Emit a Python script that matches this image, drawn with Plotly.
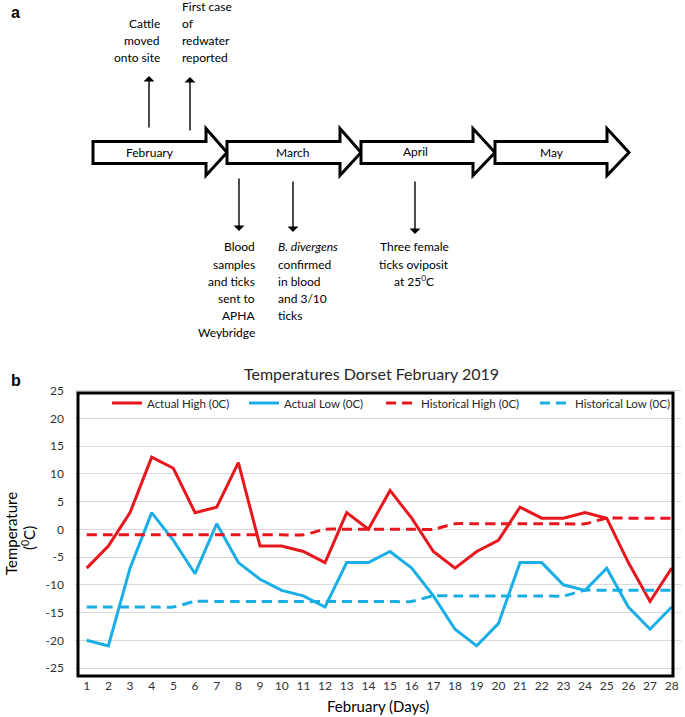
import plotly.graph_objects as go

OFF = 0  # body margin removed by post_script below
W, H = 685, 717

days = list(range(1, 29))
actual_high = [-7, -3, 3, 13, 11, 3, 4, 12, -3, -3, -4, -6, 3, 0, 7, 2, -4, -7, -4, -2, 4, 2, 2, 3, 2, -6, -13, -7]
actual_low = [-20, -21, -7, 3, -2, -8, 1, -6, -9, -11, -12, -14, -6, -6, -4, -7, -12, -18, -21, -17, -6, -6, -10, -11, -7, -14, -18, -14]
hist_high = [-1]*11 + [0]*6 + [1]*7 + [2]*4
hist_low = [-14]*5 + [-13]*11 + [-12]*7 + [-11]*5
y_ticks = [25, 20, 15, 10, 5, 0, -5, -10, -15, -20, -25]
series_names = ["Actual High (0C)", "Actual Low (0C)", "Historical High (0C)", "Historical Low (0C)"]

RED = "#e8161d"
BLUE = "#1aaee6"
FONT = "Lato"


def X(px):
    return (px - OFF) / W


def Y(py):
    return 1 - (py - OFF) / H


fig = go.Figure()
fig.add_trace(go.Scatter(x=days, y=actual_high, mode="lines", name=series_names[0], legend="legend",
                         line=dict(color=RED, width=3)))
fig.add_trace(go.Scatter(x=days, y=actual_low, mode="lines", name=series_names[1], legend="legend2",
                         line=dict(color=BLUE, width=3)))
fig.add_trace(go.Scatter(x=days, y=hist_high, mode="lines", name=series_names[2], legend="legend3",
                         line=dict(color=RED, width=3, dash="10px,6px", shape="spline", smoothing=0.6)))
fig.add_trace(go.Scatter(x=days, y=hist_low, mode="lines", name=series_names[3], legend="legend4",
                         line=dict(color=BLUE, width=3, dash="10px,6px", shape="spline", smoothing=0.6)))

shapes = []
annotations = []


def text(t, px, py, size=12, anchor="center", color="black", family=FONT, angle=0):
    annotations.append(dict(text=t, x=X(px), y=Y(py), xref="paper", yref="paper",
                            showarrow=False, xanchor=anchor, yanchor="middle", textangle=angle,
                            font=dict(family=family, size=size, color=color)))


# ---------- panel a: timeline ----------
def block_arrow(x0, xb, xt, yt=141.5, yb=163.5, ht=128.5, hb=175.5):
    ym = (yt + yb) / 2
    pts = [(x0, yt), (xb, yt), (xb, ht), (xt, ym), (xb, hb), (xb, yb), (x0, yb)]
    path = "M " + " L ".join(f"{X(a):.5f},{Y(b):.5f}" for a, b in pts) + " Z"
    shapes.append(dict(type="path", xref="paper", yref="paper", path=path,
                       line=dict(color="black", width=3), fillcolor="white"))


block_arrow(93, 206, 227)
block_arrow(227, 340, 361)
block_arrow(361, 473, 495)
block_arrow(495, 607, 629)

for t, px, py in [("February", 150, 153), ("March", 292, 152), ("April", 415, 151), ("May", 552, 153)]:
    text(t, px, py)


def arrow(xp, y_from, y_to):
    annotations.append(dict(x=X(xp), y=Y(y_to), ax=0, ay=y_from - y_to, xref="paper", yref="paper",
                            axref="pixel", ayref="pixel", text="", showarrow=True,
                            arrowhead=1, arrowsize=1.3, arrowwidth=1.4, arrowcolor="black"))


arrow(149, 129, 76)
arrow(190, 132, 77)
arrow(239, 177, 231)
arrow(293, 180, 232)
arrow(415, 180, 234)


def lines(texts, px, py0, anchor, step=17):
    for i, t in enumerate(texts):
        text(t, px, py0 + i * step, anchor=anchor)


lines(["Cattle", "moved", "onto site"], 162, 24, "right")
lines(["First case", "of", "redwater", "reported"], 180, 7, "left")
lines(["Blood", "samples", "and ticks", "sent to", "APHA", "Weybridge"], 257, 247, "right")
lines(["<i>B. divergens</i>", "confirmed", "in blood", "and 3/10", "ticks"], 276, 247, "left")
lines(["Three female", "ticks oviposit", "at 25<sup>0</sup>C"], 414, 247, "center")

text("<b>a</b>", 9, 12, size=16, anchor="left", family="Arial")
text("<b>b</b>", 9, 380, size=16, anchor="left", family="Arial")

# ---------- panel b decorations ----------
text("Temperatures Dorset February 2019", 371, 373, size=16, color="#262626")
text("February (Days)", 378, 706, size=15)
text("Temperature", 11, 534, size=15, angle=-90)
text("(<sup>0</sup>C)", 28, 538, size=15, angle=-90)

shapes.append(dict(type="rect", xref="paper", yref="paper", x0=X(78), x1=X(673), y0=Y(676), y1=Y(393),
                   line=dict(color="black", width=3), fillcolor="rgba(0,0,0,0)", layer="above"))

px_per_unit = 5.55
zero_py = 529.3
top_py, bot_py = 386, 676
y_rng = [-(bot_py - zero_py) / px_per_unit, (zero_py - top_py) / px_per_unit]
x_px1, x_spacing = 86.7, 21.667
left_px, right_px = 75, 681
x_rng = [1 - (x_px1 - left_px) / x_spacing, 1 + (right_px - x_px1) / x_spacing]

legend_text_px = [147, 284, 421, 575]
legend_style = dict(orientation="h", yanchor="middle", xanchor="left", bgcolor="rgba(0,0,0,0)",
                    font=dict(family=FONT, size=11.5, color="#262626"), itemwidth=30)

fig.update_layout(
    width=W, height=H,
    margin=dict(l=0, r=0, t=0, b=0),
    paper_bgcolor="white", plot_bgcolor="white",
    shapes=shapes, annotations=annotations,
    showlegend=True,
    legend=dict(x=X(legend_text_px[0] - 40), y=Y(403), **legend_style),
    legend2=dict(x=X(legend_text_px[1] - 40), y=Y(403), **legend_style),
    legend3=dict(x=X(legend_text_px[2] - 40), y=Y(403), **legend_style),
    legend4=dict(x=X(legend_text_px[3] - 40), y=Y(403), **legend_style),
    xaxis=dict(domain=[X(left_px), X(right_px)], range=x_rng, tickmode="array", tickvals=days,
               ticktext=[str(d) for d in days], showgrid=False, zeroline=False, showline=False,
               ticks="", tickfont=dict(family=FONT, size=12, color="#333333"), automargin=False,
               ticklabelstandoff=1),
    yaxis=dict(domain=[Y(bot_py), Y(top_py)], range=y_rng, tickmode="array", tickvals=y_ticks,
               ticktext=[str(v) for v in y_ticks], showgrid=True, gridcolor="#d9d9d9", gridwidth=1,
               zeroline=False, showline=False, ticks="", automargin=False,
               tickfont=dict(family=FONT, size=12, color="#333333"), ticklabelstandoff=10),
)

fig.write_html("out.html", config={"displayModeBar": False},
               post_script="document.body.style.margin='0';")
